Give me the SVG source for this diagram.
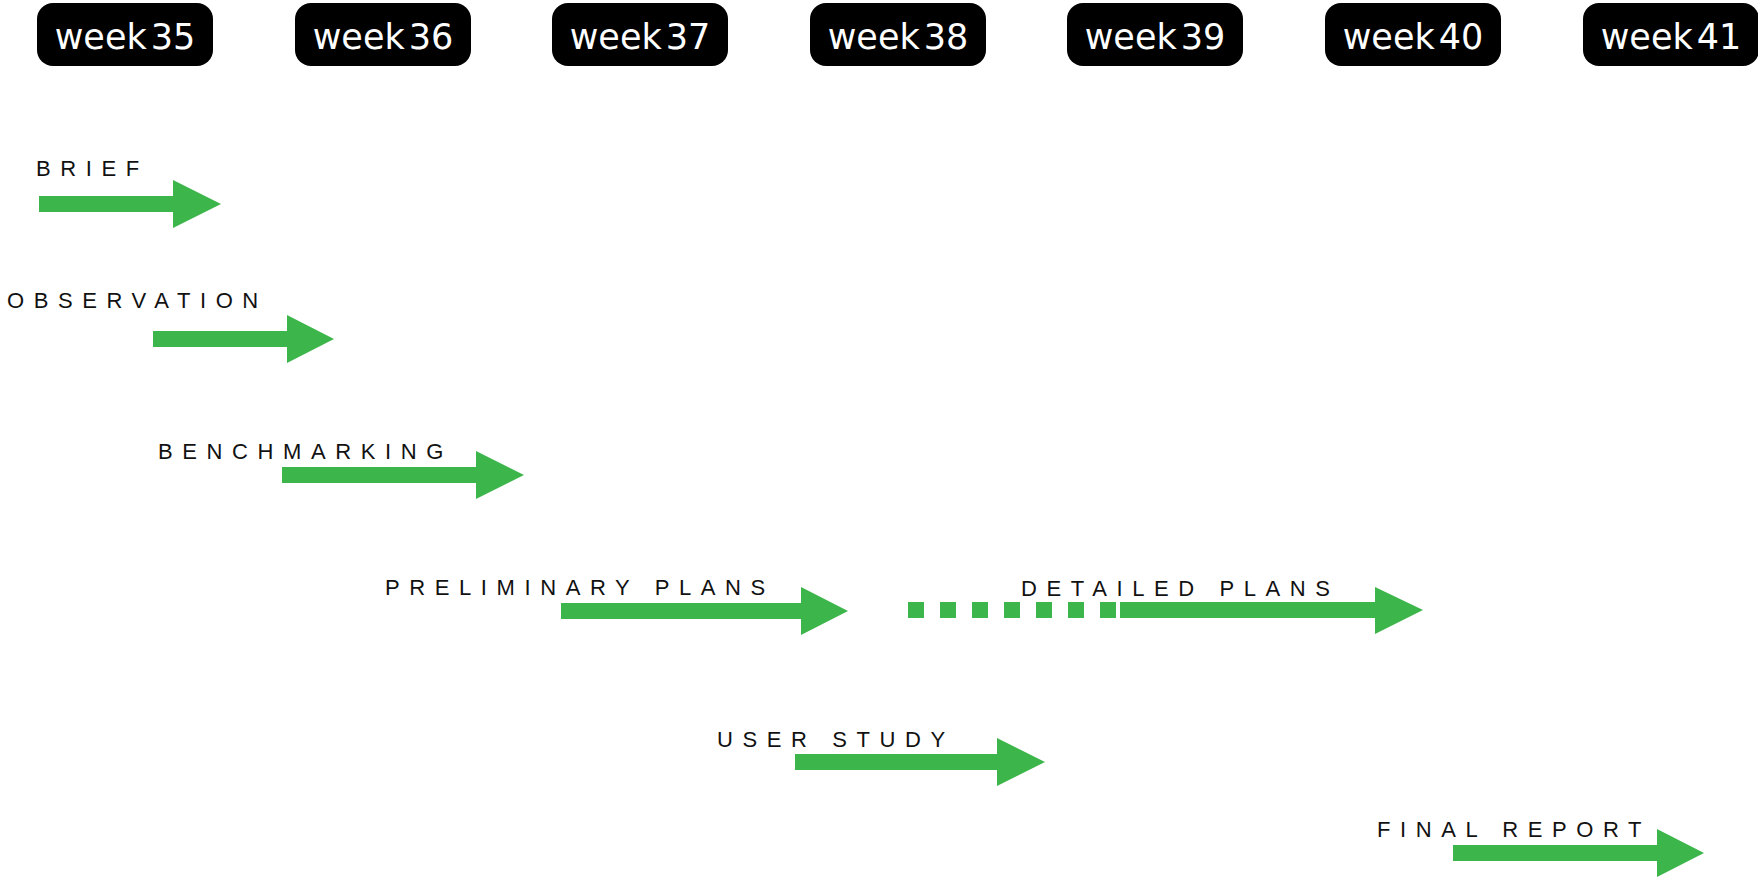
<svg xmlns="http://www.w3.org/2000/svg" width="1758" height="880" viewBox="0 0 1758 880">
<style>
.wk{fill:#000;}
.wkt{fill:#fff;font-family:"DejaVu Sans",sans-serif;font-size:35px;text-anchor:middle;}
.lbl{fill:#111;font-family:"Liberation Sans",Arial,sans-serif;font-size:22px;letter-spacing:9.6px;}
.arr{fill:#3cb64b;}
</style>
<rect width="1758" height="880" fill="#fff"/>
<g id="weeks">
<g id="week35"><rect class="wk" x="37" y="3" width="176" height="63" rx="16"/><text class="wkt" x="125" y="49">week<tspan dx="4">35</tspan></text></g>
<g id="week36"><rect class="wk" x="295" y="3" width="176" height="63" rx="16"/><text class="wkt" x="383" y="49">week<tspan dx="4">36</tspan></text></g>
<g id="week37"><rect class="wk" x="552" y="3" width="176" height="63" rx="16"/><text class="wkt" x="640" y="49">week<tspan dx="4">37</tspan></text></g>
<g id="week38"><rect class="wk" x="810" y="3" width="176" height="63" rx="16"/><text class="wkt" x="898" y="49">week<tspan dx="4">38</tspan></text></g>
<g id="week39"><rect class="wk" x="1067" y="3" width="176" height="63" rx="16"/><text class="wkt" x="1155" y="49">week<tspan dx="4">39</tspan></text></g>
<g id="week40"><rect class="wk" x="1325" y="3" width="176" height="63" rx="16"/><text class="wkt" x="1413" y="49">week<tspan dx="4">40</tspan></text></g>
<g id="week41"><rect class="wk" x="1583" y="3" width="176" height="63" rx="16"/><text class="wkt" x="1671" y="49">week<tspan dx="4">41</tspan></text></g>
</g>
<g id="tasks">
<g id="brief"><text class="lbl" x="36" y="176">BRIEF</text></g>
<g id="observation"><text class="lbl" x="7" y="308">OBSERVATION</text></g>
<g id="benchmarking"><text class="lbl" x="158" y="459">BENCHMARKING</text></g>
<g id="preliminary"><text class="lbl" x="385" y="595">PRELIMINARY PLANS</text></g>
<g id="detailed"><text class="lbl" x="1021" y="596">DETAILED PLANS</text></g>
<g id="userstudy"><text class="lbl" x="717" y="747">USER STUDY</text></g>
<g id="finalreport"><text class="lbl" x="1377" y="837">FINAL REPORT</text></g>
</g>
<g id="connectors">
<polygon class="arr" points="39,196 173,196 173,180 221,204 173,228 173,212 39,212"/>
<polygon class="arr" points="153,331 287,331 287,315 334,339 287,363 287,347 153,347"/>
<polygon class="arr" points="282,467 476,467 476,451 524,475 476,499 476,483 282,483"/>
<polygon class="arr" points="561,603 801,603 801,587 848,611 801,635 801,619 561,619"/>
<g class="arr">
<rect x="908" y="602" width="16" height="16"/>
<rect x="940" y="602" width="16" height="16"/>
<rect x="972" y="602" width="16" height="16"/>
<rect x="1004" y="602" width="16" height="16"/>
<rect x="1036" y="602" width="16" height="16"/>
<rect x="1068" y="602" width="16" height="16"/>
<rect x="1100" y="602" width="16" height="16"/>
</g>
<polygon class="arr" points="1120,602 1375,602 1375,587 1423,610 1375,634 1375,618 1120,618"/>
<polygon class="arr" points="795,754 997,754 997,738 1045,762 997,786 997,770 795,770"/>
<polygon class="arr" points="1453,845 1657,845 1657,829 1704,853 1657,877 1657,861 1453,861"/>
</g>
</svg>
